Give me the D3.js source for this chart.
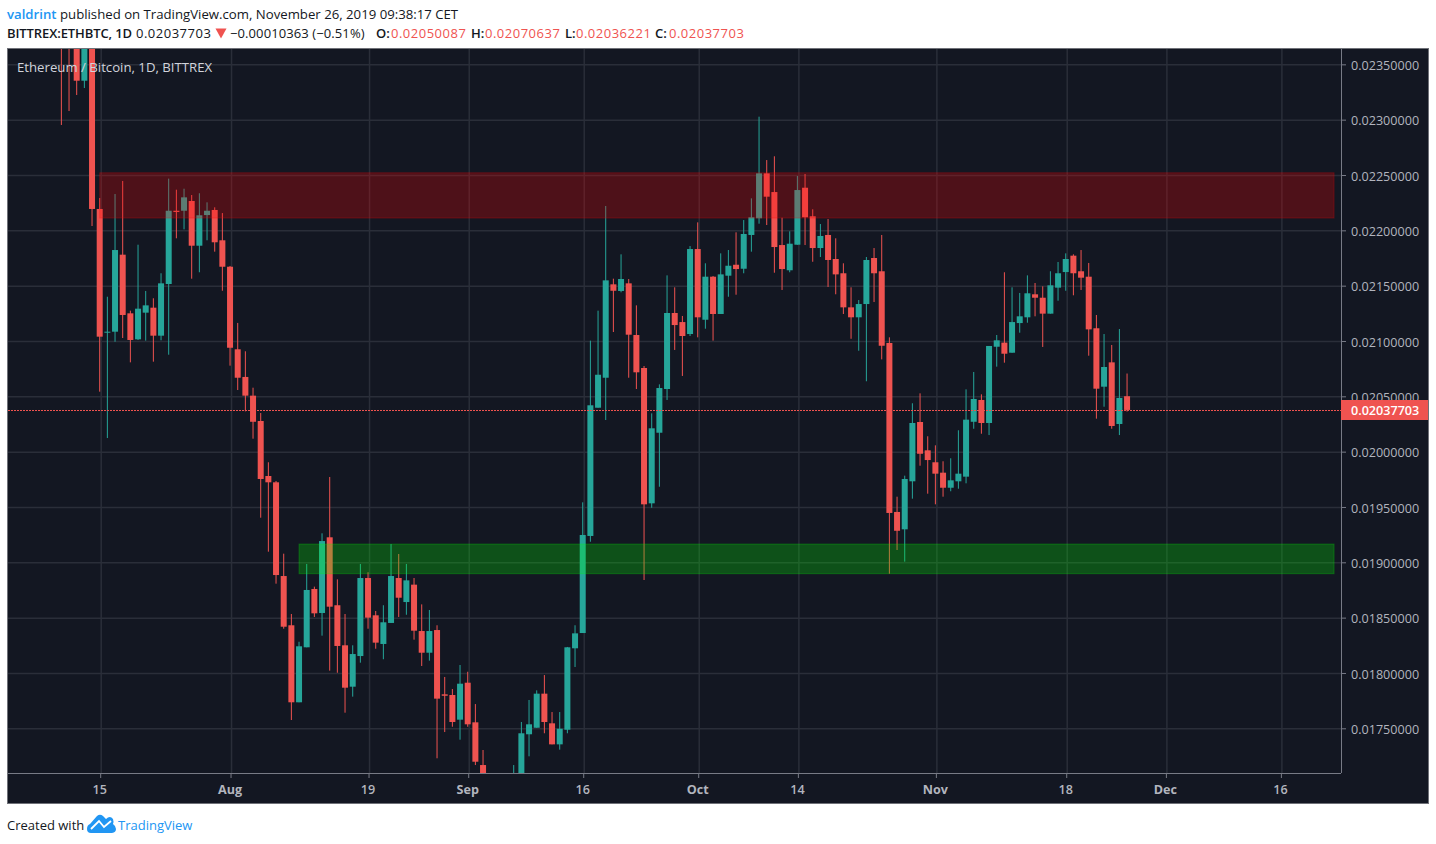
<!DOCTYPE html>
<html>
<head>
<meta charset="utf-8">
<title>ETHBTC</title>
<script src="https://d3js.org/d3.v7.min.js"></script>
<style>
    html, body { margin: 0; padding: 0; background: #ffffff; }
    svg { display: block; font-family: "Open Sans", sans-serif; }
</style>
</head>
<body>
<div class="chart"></div>
<script>
// ETH/BTC daily candles, prices in 0.00001 BTC, first candle is 2019-07-10
var firstDay = new Date(Date.UTC(2019, 6, 10));

var opens = [2400,2390,2375,2335.2,2380,
    2219.3,2107.8,2108.4,2178.0,2125.0,2101.5,2125.6,2130.1,2104.8,2151.5,
    2217.7,2217.7,2226.5,2186.1,2213.8,2218.4,2191.0,2167.1,2092.5,2067.5,
    2050.6,2027.7,1978.0,1972.3,1887.6,1843.1,1773.5,1823.2,1875.9,1854.2,
    1922.6,1861.2,1825.0,1787.6,1815.3,1885.8,1852.1,1826.2,1845.2,1885.8,
    1864.1,1879.8,1837.9,1818.3,1838.8,1780.7,1780.1,1757.8,1791.2,1755.4,
    1716.8,1692,1670,1685,1690,1700,1744.6,1750.5,1781.3,1754.5,
    1735.5,1748.7,1822.3,1836.1,1923.8,2039.7,2066.8,2151.2,2145.2,2152.1,
    2105.4,2075.6,1953.3,2017.1,2056.6,2125.3,2117.1,2106.3,2183.1,2119.2,
    2158.1,2124.4,2159.0,2168.9,2165.3,2195.8,2210.9,2251.5,2234.6,2186.7,
    2163.9,2187.0,2238.5,2212.7,2184.0,2195.8,2174.1,2161.2,2130.4,2121.4,
    2133.4,2175.0,2163.0,2098.2,1945.5,1929.8,1973.2,2026.8,2001.2,1990.4,
    1981.0,1967.4,1973.2,1977.4,2027.0,2046.7,2025.9,2094.8,2098.5,2089.4,
    2116.2,2121.4,2142.2,2139.1,2124.7,2148.2,2162.3,2177.1,2163.0,2158.1,
    2111.5,2058.7,2080.7,2025.0,2050.1];

var highs = [2410,2400,2390,2395,2395,
    2229.2,2140.0,2232.8,2244.6,2127.4,2187.0,2145.2,2138.6,2161.2,2246.7,
    2236.7,2237.6,2231.9,2233.5,2225.3,2220.8,2215.6,2167.8,2116.3,2090.7,
    2057.8,2034.9,1990.4,1973.5,1907.8,1853.3,1828.2,1898.5,1878.0,1926.2,
    1977.1,1884.6,1853.3,1825.0,1898.5,1891.0,1856.0,1861.2,1916.5,1907.5,
    1898.5,1885.8,1862.0,1856.9,1843.1,1796.4,1785.5,1807.2,1801.1,1771.9,
    1730.4,1700,1700,1705,1716.8,1755.7,1775.6,1784.3,1798.1,1764.7,
    1764.7,1823.5,1843.1,1954.2,2100.3,2127.4,2222.0,2156.3,2178.3,2156.0,
    2132.2,2077.4,2034.6,2060.8,2159.3,2148.5,2122.6,2185.8,2207.2,2170.2,
    2158.7,2179.2,2182.2,2198.2,2209.3,2228.9,2302.7,2263.5,2266.9,2211.4,
    2199.1,2249.1,2250.9,2219.0,2205.7,2210.2,2192.8,2170.2,2148.5,2137.0,
    2175.9,2184.0,2195.8,2103.3,1959.3,1978.3,2043.7,2052.7,2013.9,2005.7,
    1991.3,1994.0,2019.3,2056.3,2072.0,2051.8,2095.5,2105.4,2162.1,2148.5,
    2143.4,2159.3,2152.4,2149.4,2163.0,2171.4,2179.2,2178.3,2182.2,2170.5,
    2123.5,2106.3,2096.4,2110.8,2070.6];

var lows = [2295.2,2307.8,2322.3,2328.6,2203.9,
    2054.2,2012.3,2099.3,2102.7,2080.7,2100.9,2100.3,2081.3,2100.6,2087.6,
    2192.8,2200.9,2156.3,2162.1,2191.0,2180.7,2145.4,2077.7,2055.7,2036.4,
    2011.7,1940.3,1909.6,1880.7,1840.0,1757.5,1773.5,1823.2,1850.6,1833.7,
    1802.1,1800.2,1764.1,1778.6,1809.3,1840.0,1821.9,1812.4,1845.2,1850.6,
    1852.6,1830.1,1806.3,1811.1,1722.9,1746.6,1751.4,1739.7,1751.4,1716.8,
    1680,1665,1660,1675,1680,1695,1724.7,1750.5,1745.5,1735.5,
    1730.7,1745.5,1805.4,1836.1,1918.6,2039.7,2028.6,2108.1,2144.0,2066.8,
    2056.6,1884.0,1949.3,1968.3,2046.7,2091.9,2068.4,2104.5,2103.3,2111.1,
    2100.3,2124.4,2140.0,2141.8,2161.2,2180.7,2206.0,2204.8,2161.7,2146.1,
    2162.1,2187.0,2186.7,2171.6,2175.9,2148.8,2142.2,2124.4,2102.0,2091.2,
    2063.6,2135.2,2083.4,1889.7,1911.1,1900.6,1957.5,1987.3,1962.0,1952.4,
    1959.3,1964.2,1966.5,1971.4,2020.7,2016.2,2015.0,2076.8,2080.4,2089.4,
    2107.5,2116.5,2122.3,2094.6,2124.7,2136.4,2145.4,2141.3,2146.1,2086.7,
    2029.8,2040.6,2020.7,2015.0,2036.2];

var closes = [2380,2375,2335.2,2375,2219.3,
    2103.9,2108.4,2182.2,2123.5,2100.9,2129.2,2132.2,2104.8,2152.1,2217.7,
    2216.6,2229.8,2186.1,2213.6,2217.7,2189.2,2167.1,2093.9,2066.8,2050.6,
    2027.0,1975.3,1972.3,1888.5,1841.8,1773.5,1824.1,1875.0,1853.9,1919.2,
    1859.9,1824.4,1786.7,1817.1,1885.8,1850.0,1827.4,1845.8,1887.6,1868.0,
    1883.7,1838.2,1818.3,1837.9,1776.8,1779.4,1755.7,1790.3,1753.6,1719.8,
    1690,1675,1690,1700,1708,1745.5,1753.6,1781.3,1755.7,1735.5,
    1749.6,1823.2,1835.8,1924.7,2041.9,2069.5,2154.8,2145.4,2156.0,2105.7,
    2071.7,1952.4,2021.1,2057.5,2125.3,2114.4,2104.5,2183.1,2121.4,2158.1,
    2124.4,2160.2,2168.0,2165.0,2196.7,2211.8,2251.5,2230.4,2184.9,2165.0,
    2187.9,2236.4,2211.8,2184.0,2194.9,2173.2,2160.2,2130.4,2121.4,2133.4,
    2173.2,2161.2,2095.7,1944.6,1928.5,1975.3,2025.9,1998.1,1992.4,1980.1,
    1967.4,1974.1,1980.1,2028.9,2047.6,2025.9,2095.5,2100.6,2088.5,2117.1,
    2122.3,2143.1,2139.1,2124.7,2150.3,2161.2,2174.1,2161.2,2157.2,2110.5,
    2056.9,2076.5,2023.2,2048.5,2037.7];

// Axis ticks
var priceTicks = [2350,2300,2250,2200,2150,2100,2050,2000,1950,1900,1850,1800,1750];
var timeTicks = [[2019,6,15],[2019,7,1],[2019,7,19],[2019,8,1],[2019,8,16],[2019,9,1],
    [2019,9,14],[2019,10,1],[2019,10,18],[2019,11,1],[2019,11,16]];
var timeLabels = ["15","Aug","19","Sep","16","Oct","14","Nov","18","Dec","16"];

// Last price and the two marked zones
var lastPrice = 2037.703;
var resistanceZone = {low: 2211.1, high: 2252, from: [2019,6,15], to: [2019,11,23]};
var supportZone = {low: 1889.7, high: 1916.5, from: [2019,7,10], to: [2019,11,23]};

// SVG Dimensions
var svgWidth = 1436;
var svgHeight = 844;

var margin = {
    top: 49,
    right: 95,
    bottom: 71,
    left: 8
};

// Plot Dimensions
var plotWidth = svgWidth - margin.left - margin.right;
var plotHeight = svgHeight - margin.top - margin.bottom;

var upColor = "#26a69a";
var downColor = "#ef5350";
var gridColor = "#2a2e39";
var axisColor = "#787b86";
var labelColor = "#b2b5be";
var blue = "#2196f3";

function utc(d) {
    return new Date(Date.UTC(d[0], d[1], d[2]));
}

// Create SVG Wrapper
var svg = d3.select(".chart")
    .append("svg")
    .attr("width", svgWidth)
    .attr("height", svgHeight);

// Chart frame
svg.append("rect")
    .attr("x", 7.5)
    .attr("y", 48.5)
    .attr("width", 1421)
    .attr("height", 755)
    .attr("fill", "#131722")
    .attr("stroke", "#6f7178")
    .attr("stroke-width", 1);

var chartGroup = svg.append("g")
    .attr("transform", `translate(${margin.left}, ${margin.top})`);

svg.append("defs").append("clipPath")
    .attr("id", "plotClip")
    .append("rect")
    .attr("width", plotWidth)
    .attr("height", plotHeight);

// Build the candles
var candles = opens.map(function(open, i) {
    return {
        date: d3.utcDay.offset(firstDay, i),
        open: open,
        high: highs[i],
        low: lows[i],
        close: closes[i]
    };
});

// Create Scales
var xScale = d3.scaleUtc()
    .domain([utc([2019,6,15]), utc([2019,11,16])])
    .range([91.7, 1272.4]);

var yScale = d3.scaleLinear()
    .domain([1750, 2250])
    .range([679.3, 126]);

// Grid lines
var xGrid = chartGroup.append("g")
    .attr("transform", `translate(1, ${plotHeight})`)
    .call(d3.axisBottom(xScale).tickValues(timeTicks.map(utc)).tickSize(-plotHeight).tickFormat(""));

var yGrid = chartGroup.append("g")
    .call(d3.axisLeft(yScale).tickValues(priceTicks).tickSize(-plotWidth).tickFormat(""));

[xGrid, yGrid].forEach(function(grid) {
    grid.select(".domain").remove();
    grid.selectAll("line").attr("stroke", gridColor).attr("stroke-width", 1.5);
});

var plot = chartGroup.append("g").attr("clip-path", "url(#plotClip)");

// Draw the wicks
plot.selectAll(".wick")
    .data(candles)
    .enter()
    .append("line")
    .attr("class", "wick")
    .attr("x1", d => xScale(d.date))
    .attr("x2", d => xScale(d.date))
    .attr("y1", d => yScale(d.high))
    .attr("y2", d => yScale(d.low))
    .attr("stroke", d => d.close >= d.open ? upColor : downColor)
    .attr("stroke-width", 1);

// Draw the bodies
plot.selectAll(".body")
    .data(candles)
    .enter()
    .append("rect")
    .attr("class", "body")
    .attr("x", d => xScale(d.date) - 3)
    .attr("width", 6)
    .attr("y", d => yScale(Math.max(d.open, d.close)))
    .attr("height", d => Math.max(1, Math.abs(yScale(d.open) - yScale(d.close))))
    .attr("fill", d => d.close >= d.open ? upColor : downColor);

// Zones sit on top of the candles
function drawZone(zone, color) {
    plot.append("rect")
        .attr("x", xScale(utc(zone.from)))
        .attr("width", xScale(utc(zone.to)) - xScale(utc(zone.from)))
        .attr("y", yScale(zone.high))
        .attr("height", yScale(zone.low) - yScale(zone.high))
        .attr("fill", color)
        .attr("fill-opacity", 0.25)
        .attr("stroke", color)
        .attr("stroke-opacity", 0.25);
}
drawZone(resistanceZone, "#ff0000");
drawZone(supportZone, "#00ff00");

// Last price line, kept on a whole pixel so the dots stay bright
var lastY = Math.round(yScale(lastPrice)) + 0.5;
plot.append("line")
    .attr("x1", 0)
    .attr("x2", plotWidth)
    .attr("y1", lastY)
    .attr("y2", lastY)
    .attr("stroke", downColor)
    .attr("stroke-width", 1)
    .attr("stroke-dasharray", "2 1");

// Price axis
var yAxis = chartGroup.append("g")
    .attr("transform", `translate(${plotWidth}, 0)`)
    .call(d3.axisRight(yScale).tickValues(priceTicks).tickSize(5).tickPadding(5)
        .tickFormat(d => d3.format(".8f")(d / 100000)));

// Time axis
var xAxis = chartGroup.append("g")
    .attr("transform", `translate(0, ${plotHeight})`)
    .call(d3.axisBottom(xScale).tickValues(timeTicks.map(utc)).tickSize(5).tickPadding(7)
        .tickFormat((d, i) => timeLabels[i]));

xAxis.selectAll(".tick").attr("transform", function(d) {
    return `translate(${xScale(d) + 1}, 0)`;
});
xAxis.select(".domain").attr("d", `M0,0.5H${plotWidth}`);
yAxis.select(".domain").attr("d", `M0.5,0V${plotHeight}`);

[xAxis, yAxis].forEach(function(axis) {
    axis.attr("font-family", "'Open Sans', sans-serif").attr("font-size", 12.6);
    axis.select(".domain").attr("stroke", axisColor);
    axis.selectAll("line").attr("stroke", axisColor);
    axis.selectAll("text").attr("fill", labelColor);
});
yAxis.selectAll("text").attr("dy", "0.4em");
xAxis.selectAll("text")
    .attr("dx", -1)
    .attr("font-weight", (d, i) => isNaN(+timeLabels[i]) ? 700 : 600);

// Last price label
var lastGroup = chartGroup.append("g")
    .attr("transform", `translate(${plotWidth}, ${lastY})`);
lastGroup.append("rect")
    .attr("y", -10.5)
    .attr("width", 87)
    .attr("height", 20)
    .attr("fill", downColor);
lastGroup.append("text")
    .attr("x", 10)
    .attr("dy", "0.34em")
    .attr("fill", "#ffffff")
    .attr("font-size", 12.6)
    .attr("font-weight", 600)
    .text(d3.format(".8f")(lastPrice / 100000));

// Watermark title
svg.append("text")
    .attr("x", 17)
    .attr("y", 72)
    .attr("fill", "#d1d4dc")
    .attr("font-size", 13.2)
    .text("Ethereum / Bitcoin, 1D, BITTREX");

// Header lines
var header = svg.append("text")
    .attr("x", 7)
    .attr("y", 19)
    .attr("font-size", 13.2)
    .attr("fill", "#131722");
header.append("tspan").attr("fill", blue).attr("font-weight", 600).text("valdrint");
header.append("tspan").text(" published on TradingView.com, November 26, 2019 09:38:17 CET");

var quoteParts = [
    {x: 7, text: "BITTREX:ETHBTC, 1D", weight: 600, fill: "#131722", spacing: -0.1},
    {x: 136, text: "0.02037703", weight: 400, fill: "#131722", spacing: 0.5},
    {x: 230, text: "\u22120.00010363 (\u22120.51%)", weight: 400, fill: "#131722", spacing: 0.1},
    {x: 376, text: "O:", weight: 600, fill: "#131722", spacing: 0},
    {x: 391, text: "0.02050087", weight: 400, fill: downColor, spacing: 0.5},
    {x: 471, text: "H:", weight: 600, fill: "#131722", spacing: 0},
    {x: 485, text: "0.02070637", weight: 400, fill: downColor, spacing: 0.5},
    {x: 565, text: "L:", weight: 600, fill: "#131722", spacing: 0},
    {x: 576, text: "0.02036221", weight: 400, fill: downColor, spacing: 0.5},
    {x: 655, text: "C:", weight: 600, fill: "#131722", spacing: 0},
    {x: 669, text: "0.02037703", weight: 400, fill: downColor, spacing: 0.5}
];
svg.selectAll(".quote")
    .data(quoteParts)
    .enter()
    .append("text")
    .attr("class", "quote")
    .attr("x", d => d.x)
    .attr("y", 38)
    .attr("font-size", 13)
    .attr("font-weight", d => d.weight)
    .attr("letter-spacing", d => d.spacing)
    .attr("fill", d => d.fill)
    .text(d => d.text);

// Down triangle next to the price
svg.append("path")
    .attr("d", "M215.5,28.5H226.5L221,38.5Z")
    .attr("fill", downColor);

// Footer
svg.append("text")
    .attr("x", 7)
    .attr("y", 830)
    .attr("font-size", 13)
    .attr("fill", "#131722")
    .text("Created with");

svg.append("path")
    .attr("d", "M87,829 Q87,825 90,824 L97,816 Q100,813.5 103,816 L106,819 Q110,815 113,819 Q114,822 113,824 Q116,826 116,829 Q116,832.5 112,833 L91,833 Q87,833 87,829Z")
    .attr("fill", blue);
svg.append("path")
    .attr("d", "M91,829 L99,821 L104,827 L111,821")
    .attr("fill", "none")
    .attr("stroke", "#ffffff")
    .attr("stroke-width", 1.8);

svg.append("text")
    .attr("x", 118)
    .attr("y", 830)
    .attr("font-size", 13)
    .attr("fill", blue)
    .text("TradingView");
</script>
</body>
</html>
